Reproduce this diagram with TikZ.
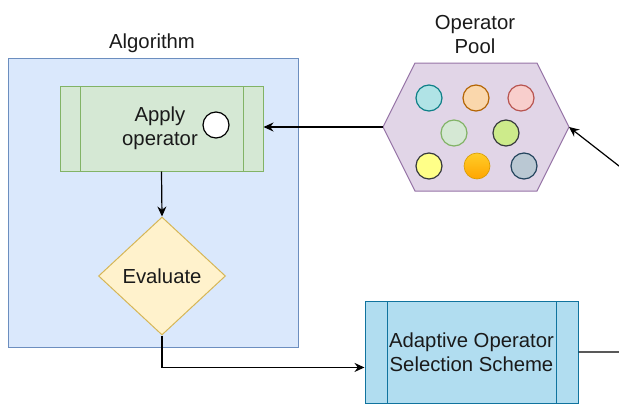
\documentclass[tikz,border=0pt]{standalone}
\usepackage{fontspec}
\setmainfont{Liberation Sans}
\usetikzlibrary{shapes.geometric,calc,arrows.meta}

\definecolor{algofill}{HTML}{DAE8FC}
\definecolor{algoline}{HTML}{6C8EBF}
\definecolor{applyfill}{HTML}{D5E8D4}
\definecolor{applyline}{HTML}{82B366}
\definecolor{evalfill}{HTML}{FFF2CC}
\definecolor{evalline}{HTML}{D6B656}
\definecolor{asosfill}{HTML}{B1DDF0}
\definecolor{asosline}{HTML}{10739E}
\definecolor{poolfill}{HTML}{E1D5E7}
\definecolor{poolline}{HTML}{9673A6}
\definecolor{opAf}{HTML}{B0E3E6}
\definecolor{opAd}{HTML}{0E8088}
\definecolor{opBf}{HTML}{FAD7AC}
\definecolor{opBd}{HTML}{B46504}
\definecolor{opCf}{HTML}{F8CECC}
\definecolor{opCd}{HTML}{B85450}
\definecolor{opDf}{HTML}{D5E8D4}
\definecolor{opDd}{HTML}{82B366}
\definecolor{opEf}{HTML}{CDEB8B}
\definecolor{opEd}{HTML}{36393D}
\definecolor{opFf}{HTML}{FFFF88}
\definecolor{opHf}{HTML}{BAC8D3}
\definecolor{opHd}{HTML}{23445D}
\definecolor{opGtop}{HTML}{FFCD28}
\definecolor{opGbot}{HTML}{FFA500}
\definecolor{opGd}{HTML}{D79B00}
\definecolor{txt}{HTML}{1A1A1A}

\begin{document}
\begin{tikzpicture}[x=1pt,y=-1pt,
  font=\fontsize{20.3}{24}\selectfont, text=txt,
  arr/.style={-{Stealth[length=10pt,width=9pt]},line width=1.2pt},
  process/.style n args={2}{rectangle, draw=#2, line width=1pt, inner sep=0pt,
    path picture={
      \draw[#2,line width=1pt] ([xshift=#1]path picture bounding box.north west) -- ([xshift=#1]path picture bounding box.south west);
      \draw[#2,line width=1pt] ([xshift=-#1]path picture bounding box.north east) -- ([xshift=-#1]path picture bounding box.south east);
    }},
  op/.style={circle, line width=1.2pt, minimum size=26pt, inner sep=0pt}]
\useasboundingbox (0,0) rectangle (619,407);
\clip (0,0) rectangle (619,407);

% Algorithm container
\node[draw=algoline, fill=algofill, line width=1pt, minimum width=290pt, minimum height=289pt, inner sep=0pt] (algo) at (153,202.5) {};
\node (algolbl) at (152,43) {Algorithm};

% Apply operator
\node[process={20pt}{applyline}, fill=applyfill, minimum width=203pt, minimum height=85pt, align=center] (apply) at (161.5,128.5) {};
\node[align=center] (applytxt) at (160,128.5) {Apply\\operator};
\node[op, draw=black, fill=white] (applyop) at (216,125) {};

% Evaluate
\node[diamond, aspect=1, draw=evalline, fill=evalfill, line width=1pt, minimum width=127pt, minimum height=118pt, inner sep=0pt] (eval) at (162,276) {Evaluate};

% Operator pool
\draw[draw=poolline, fill=poolfill, line width=1pt] (383,127) coordinate (poolW) -- (415,63) -- (537,63) -- (569,127) coordinate (poolE) -- (537,191) -- (415,191) -- cycle;
\node[align=center] (poollbl) at (475,35) {Operator\\Pool};
\foreach \px/\py/\cf/\cd [count=\i] in {429/98/opAf/opAd, 476/98/opBf/opBd, 521/98/opCf/opCd,
    454/133/opDf/opDd, 506/133/opEf/opEd, 429/166/opFf/opEd, 524/166/opHf/opHd}
  \node[op, fill=\cf, draw=\cd] (op\i) at (\px,\py) {};
\node[op, top color=opGtop, bottom color=opGbot, draw=opGd, line width=0.6pt] (opG) at (477,166) {};

% Adaptive operator selection scheme
\node[process={22pt}{asosline}, fill=asosfill, minimum width=213pt, minimum height=102pt, align=center] (asos) at (471.5,352) {Adaptive Operator\\Selection Scheme};

% Connectors
\coordinate (bendR) at (620.3,167);
\draw[arr] (poolW) -- (poolW -| apply.east);
\draw[arr] (apply.south) -- (eval.north);
\draw[arr] (eval.south) |- ($(asos.south west)!0.35!(asos.north west)$);
\draw[arr] (asos.east) -| (bendR) -- (poolE);
\end{tikzpicture}
\end{document}
